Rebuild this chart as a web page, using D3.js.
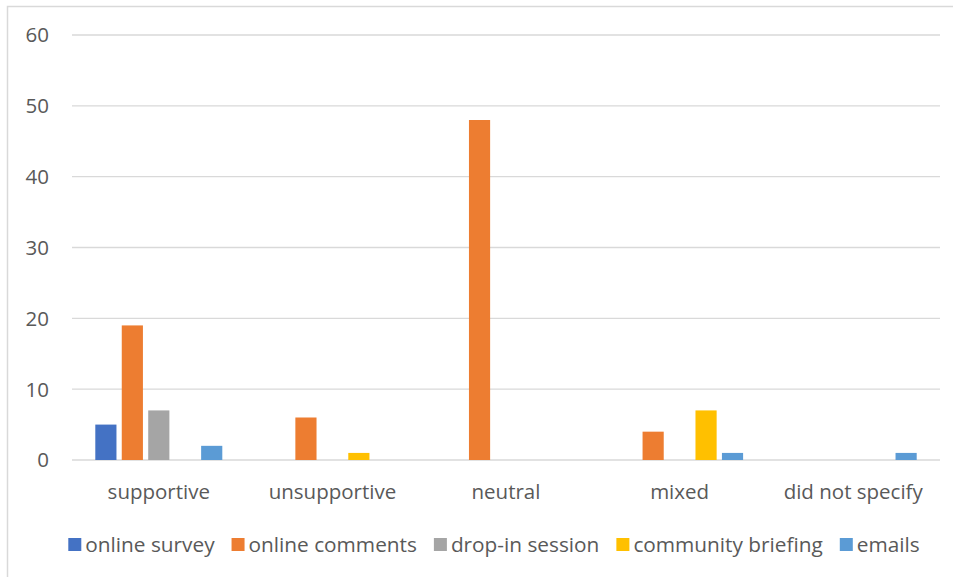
<!DOCTYPE html>
<html><head><meta charset="utf-8">
<script src="https://cdn.jsdelivr.net/npm/d3@7"></script>
<style>body{margin:0;background:#fff;} svg{display:block;font-family:"Open Sans","Noto Sans",sans-serif;}</style>
</head><body><svg id="c" width="953" height="577"></svg>
<script>
const categories = ["supportive","unsupportive","neutral","mixed","did not specify"];
const seriesNames = ["online survey","online comments","drop-in session","community briefing","emails"];
const onlineSurvey = [5,0,0,0,0];
const onlineComments = [19,6,48,4,0];
const dropIn = [7,0,0,0,0];
const communityBriefing = [0,1,0,7,0];
const emails = [2,0,0,1,1];
const yTicks = [0,10,20,30,40,50,60];
const colors = ["#4472C4","#ED7D31","#A5A5A5","#FFC000","#5B9BD5"];
const seriesValues = [onlineSurvey,onlineComments,dropIn,communityBriefing,emails];

const svg = d3.select("#c");
svg.append("rect").attr("x",7.5).attr("y",6.5).attr("width",960).attr("height",600)
  .attr("fill","none").attr("stroke","#d9d9d9").attr("stroke-width",1.5);

const L=72,R=940,T=35,B=460;
const FS=20.5;
const y = d3.scaleLinear().domain([0,60]).range([B,T]);
const x0 = d3.scaleBand().domain(categories).range([L,R]).padding(0);
const gw = 127, off=(x0.bandwidth()-gw)/2;
const x1 = d3.scaleBand().domain(seriesNames).range([off,off+gw]).paddingInner(0.2);

const g = svg.append("g");
g.selectAll("line.grid").data(yTicks).join("line")
  .attr("x1",L).attr("x2",R).attr("y1",d=>y(d)).attr("y2",d=>y(d))
  .attr("stroke","#d9d9d9").attr("stroke-width",1.3);
g.selectAll("text.yl").data(yTicks).join("text")
  .attr("x",49).attr("y",d=>y(d)).attr("dy","0.36em").attr("text-anchor","end")
  .attr("font-size",FS).attr("fill","#595959").text(d=>d);

const cg = g.selectAll("g.cat").data(categories).join("g")
  .attr("transform",d=>`translate(${x0(d)},0)`);
cg.selectAll("rect").data((c,i)=>seriesNames.map((s,j)=>({s,v:seriesValues[j][i],j})))
  .join("rect")
  .attr("x",d=>x1(d.s)).attr("width",x1.bandwidth())
  .attr("y",d=>y(d.v)).attr("height",d=>B-y(d.v))
  .attr("fill",d=>colors[d.j]);

g.selectAll("text.xl").data(categories).join("text")
  .attr("x",d=>x0(d)+x0.bandwidth()/2).attr("y",499).attr("text-anchor","middle")
  .attr("font-size",FS).attr("fill","#595959").text(d=>d);

// legend
const lg = svg.append("g");
let xx=0;
const GAP=17;
seriesNames.forEach((s,i)=>{
  const it = lg.append("g");
  it.append("rect").attr("x",0).attr("y",-14).attr("width",13).attr("height",13).attr("fill",colors[i]);
  const t = it.append("text").attr("x",17).attr("y",0).attr("font-size",20.8).attr("fill","#595959").text(s);
  const w = 17 + t.node().getComputedTextLength();
  it.attr("transform",`translate(${xx},0)`);
  xx += w + GAP;
});
const totalW = xx-GAP;
lg.attr("transform",`translate(${494 - totalW/2},552)`);
</script></body></html>
